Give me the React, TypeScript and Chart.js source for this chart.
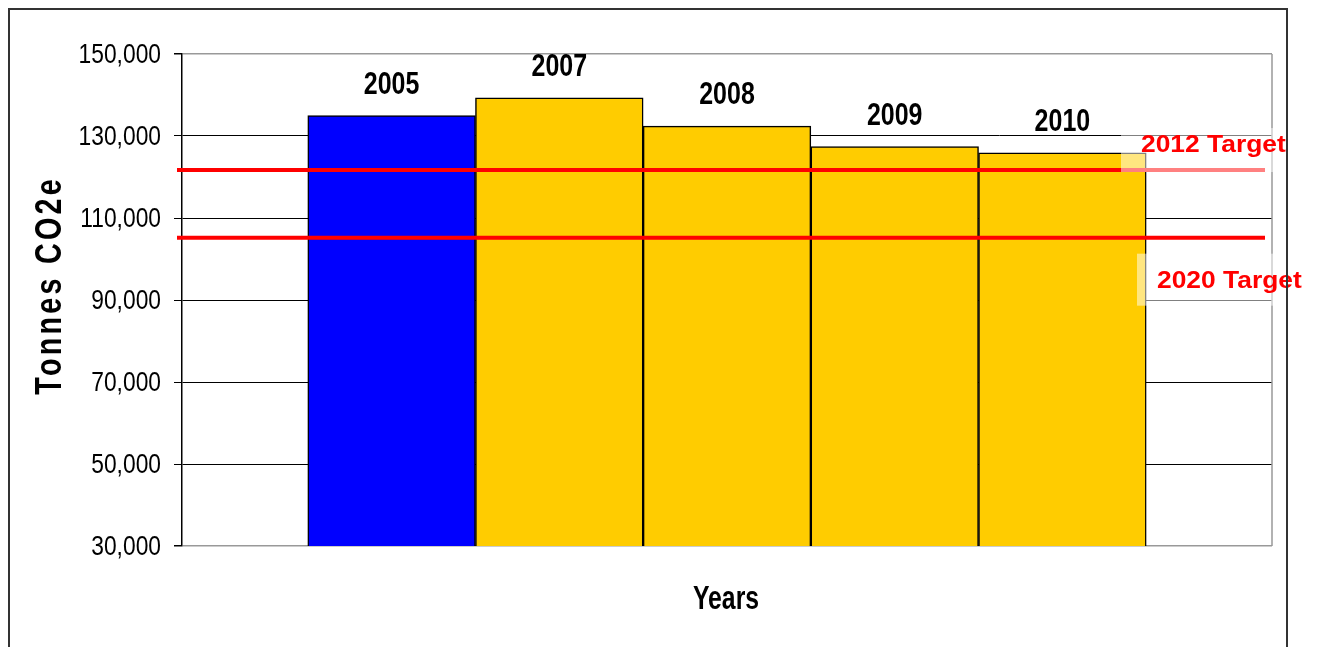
import React, { useEffect, useRef } from "react";
import { Chart, registerables } from "chart.js";

Chart.register(...registerables);

const categories = ["2005", "2007", "2008", "2009", "2010"];
const emissions = [135000, 139300, 132400, 127400, 125900];
const barColors = ["#0000FF", "#FFCC00", "#FFCC00", "#FFCC00", "#FFCC00"];
const targetLabels = ["2012 Target", "2020 Target"];
const targetValues = [121700, 105200];
const yMin = 30000;
const yMax = 150000;
const yStep = 20000;
const yTitle = "Tonnes CO2e";
const xTitle = "Years";

const SANS = '"Liberation Sans", Arial, sans-serif';

function drawScaledText(
  ctx: CanvasRenderingContext2D,
  text: string,
  x: number,
  y: number,
  font: string,
  sx: number,
  align: CanvasTextAlign,
  baseline: CanvasTextBaseline
) {
  ctx.save();
  ctx.translate(x, y);
  ctx.scale(sx, 1);
  ctx.font = font;
  ctx.textAlign = align;
  ctx.textBaseline = baseline;
  ctx.fillText(text, 0, 0);
  ctx.restore();
}

const overlayPlugin = {
  id: "overlay",
  beforeDatasetsDraw(chart: any) {
    const { ctx, chartArea, scales } = chart;
    ctx.save();
    ctx.strokeStyle = "#999";
    ctx.lineWidth = 1.5;
    ctx.beginPath();
    ctx.moveTo(chartArea.right, chartArea.top);
    ctx.lineTo(chartArea.right, chartArea.bottom);
    ctx.stroke();
    // y tick labels (condensed)
    ctx.fillStyle = "#000";
    scales.y.ticks.forEach((t: any) => {
      const y = scales.y.getPixelForValue(t.value);
      drawScaledText(
        ctx,
        Number(t.value).toLocaleString("en-US"),
        chartArea.left - 21,
        y + 1,
        "28.5px " + SANS,
        0.8,
        "right",
        "middle"
      );
    });
    ctx.restore();
  },
  afterDatasetsDraw(chart: any) {
    const { ctx, chartArea, scales } = chart;
    ctx.save();
    ctx.strokeStyle = "#FF0000";
    ctx.lineWidth = 4;
    targetValues.forEach((v) => {
      const y = scales.y.getPixelForValue(v);
      ctx.beginPath();
      ctx.moveTo(chartArea.left - 5, y);
      ctx.lineTo(chartArea.right - 7, y);
      ctx.stroke();
    });
    ctx.restore();
  },
  afterDraw(chart: any) {
    const { ctx, scales, height } = chart;
    ctx.save();
    // target label boxes and text
    const boxes = [
      { x: 1113, dy0: -42, dy1: 2, w: 166, tx: 1133, tdy: -25 },
      { x: 1129, dy0: 16, dy1: 68, w: 150, tx: 1149, tdy: 43.5 },
    ];
    targetValues.forEach((v, i) => {
      const y = scales.y.getPixelForValue(v);
      const b = boxes[i];
      ctx.fillStyle = "rgba(255,255,255,0.5)";
      ctx.fillRect(b.x, y + b.dy0, b.w, b.dy1 - b.dy0);
      ctx.fillStyle = "#FF0000";
      drawScaledText(ctx, targetLabels[i], b.tx, y + b.tdy, "bold 24px " + SANS, 1.1, "left", "middle");
    });

    // bar labels
    const meta = chart.getDatasetMeta(0);
    ctx.fillStyle = "#000";
    meta.data.forEach((bar: any, i: number) => {
      drawScaledText(ctx, categories[i], bar.x, bar.y - 22, "bold 32px " + SANS, 0.78, "center", "alphabetic");
    });

    // x title
    drawScaledText(ctx, xTitle, 718, 592, "bold 33px " + SANS, 0.75, "center", "middle");

    // y title
    ctx.save();
    ctx.translate(43, 279);
    ctx.rotate(-Math.PI / 2);
    ctx.scale(0.8, 1);
    ctx.font = "bold 36px " + SANS;
    (ctx as any).letterSpacing = "4px";
    ctx.textAlign = "center";
    ctx.textBaseline = "middle";
    ctx.fillText(yTitle, 2, 0);
    ctx.restore();

    // frame
    ctx.strokeStyle = "#333";
    ctx.lineWidth = 2;
    ctx.beginPath();
    ctx.moveTo(1, height + 10);
    ctx.lineTo(1, 1);
    ctx.lineTo(1279, 1);
    ctx.lineTo(1279, height + 10);
    ctx.stroke();
    ctx.restore();
  },
};

export default function App() {
  const canvasRef = useRef<HTMLCanvasElement | null>(null);

  useEffect(() => {
    document.documentElement.style.overflow = "hidden";
    const canvas = canvasRef.current;
    if (!canvas) return;
    const chart = new Chart(canvas, {
      type: "bar",
      data: {
        datasets: [
          {
            data: emissions.map((v, i) => ({ x: i, y: v })),
            backgroundColor: barColors,
            borderColor: "#000",
            borderWidth: 1.5,
            barPercentage: 1,
            categoryPercentage: 1,
          },
        ],
      },
      options: {
        animation: false,
        responsive: false,
        maintainAspectRatio: false,
        layout: { padding: { top: 46, right: 39, bottom: 101, left: 0 } },
        plugins: {
          legend: { display: false },
          tooltip: { enabled: false },
        },
        scales: {
          x: {
            type: "linear",
            min: -1.25,
            max: 5.25,
            offset: false,
            display: false,
            grid: { offset: false },
            afterBuildTicks(scale: any) {
              scale.ticks = categories.map((_, i) => ({ value: i }));
            },
          },
          y: {
            min: yMin,
            max: yMax,
            afterFit(scale: any) {
              scale.width = 174;
            },
            ticks: {
              stepSize: yStep,
              display: false,
            },
            grid: {
              color: (c: any) =>
                c.tick && (c.tick.value === yMax || c.tick.value === yMin) ? "#999" : "#000",
              lineWidth: (c: any) =>
                c.tick && (c.tick.value === yMax || c.tick.value === yMin) ? 1.5 : 1,
              tickColor: "#000",
              tickLength: 8,
              drawTicks: true,
            },
            border: { display: true, color: "#000", width: 1.5 },
          },
        },
      } as any,
      plugins: [overlayPlugin],
    });
    return () => chart.destroy();
  }, []);

  return (
    <div style={{ width: 1303, height: 639 }}>
      <canvas ref={canvasRef} width={1303} height={639} style={{ display: "block" }} />
    </div>
  );
}
